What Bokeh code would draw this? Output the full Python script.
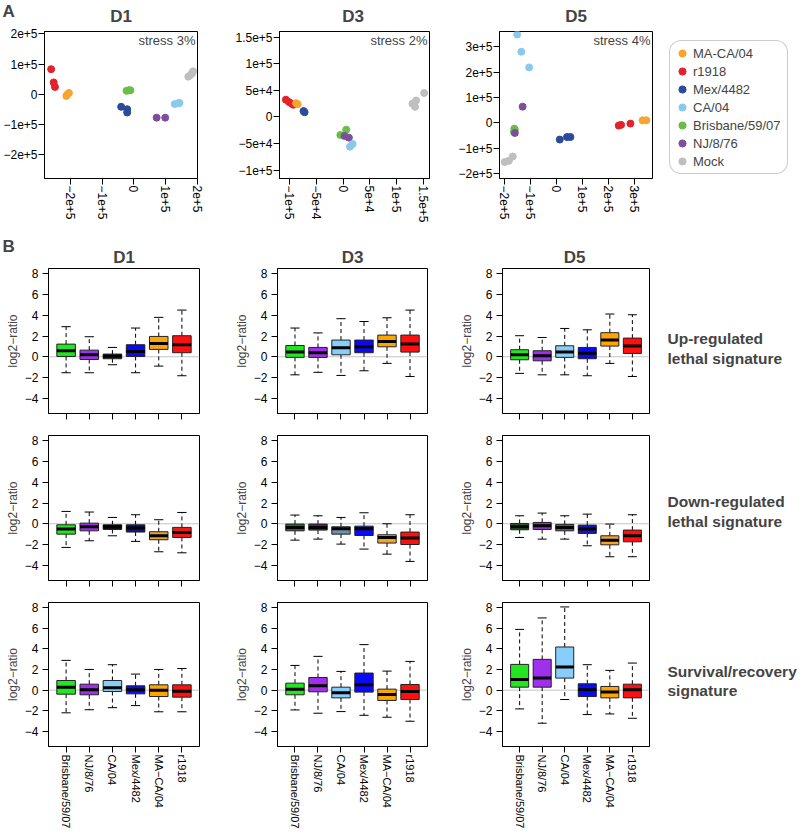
import numpy as np
from bokeh.plotting import figure
from bokeh.layouts import row, column
from bokeh.models import (FixedTicker, Span, Label, Range1d, Legend, LegendItem,
                          ColumnDataSource)
from bokeh.embed import file_html
from bokeh.resources import INLINE

FONT = "Liberation Sans"

# ---------------- Panel A: MDS scatter ----------------
STRAINS = ["MA-CA/04", "r1918", "Mex/4482", "CA/04", "Brisbane/59/07", "NJ/8/76", "Mock"]
STRAIN_COLORS = ["#F6A531", "#E3232A", "#2C4A9A", "#8AC9EE", "#6ABD46", "#7B4F9E", "#BFBFBF"]
DRAW_ORDER = ["Mock", "Brisbane/59/07", "NJ/8/76", "CA/04", "Mex/4482", "r1918", "MA-CA/04"]

D1_GROUP = ["r1918", "r1918", "r1918", "MA-CA/04", "MA-CA/04", "MA-CA/04",
            "Mex/4482", "Mex/4482", "Mex/4482", "Brisbane/59/07", "Brisbane/59/07", "Brisbane/59/07",
            "NJ/8/76", "NJ/8/76", "CA/04", "CA/04", "CA/04", "Mock", "Mock", "Mock", "Mock"]
D1_X = [-2.61e5, -2.53e5, -2.49e5, -2.11e5, -2.05e5, -2.13e5,
        -0.40e5, -0.21e5, -0.21e5, -0.23e5, -0.16e5, -0.11e5,
        0.72e5, 0.99e5, 1.29e5, 1.40e5, 1.44e5, 1.72e5, 1.79e5, 1.87e5, 1.84e5]
D1_Y = [0.83e5, 0.39e5, 0.24e5, -0.02e5, 0.04e5, -0.06e5,
        -0.42e5, -0.50e5, -0.61e5, 0.11e5, 0.13e5, 0.13e5,
        -0.78e5, -0.78e5, -0.33e5, -0.30e5, -0.29e5, 0.58e5, 0.64e5, 0.76e5, 0.69e5]

D3_GROUP = ["r1918", "r1918", "r1918", "r1918", "MA-CA/04", "MA-CA/04", "Mex/4482", "Mex/4482",
            "Brisbane/59/07", "Brisbane/59/07", "NJ/8/76", "NJ/8/76", "CA/04", "CA/04",
            "Mock", "Mock", "Mock", "Mock"]
D3_X = [-1.07e5, -1.01e5, -0.96e5, -0.93e5, -0.88e5, -0.85e5, -0.74e5, -0.72e5,
        -0.5e4, 0.6e4, 0.3e4, 1.1e4, 1.3e4, 1.8e4,
        1.30e5, 1.37e5, 1.35e5, 1.52e5]
D3_Y = [3.25e4, 2.8e4, 2.5e4, 2.3e4, 2.6e4, 2.4e4, 1.1e4, 0.9e4,
        -3.4e4, -2.4e4, -3.6e4, -3.9e4, -5.6e4, -5.1e4,
        2.5e4, 3.1e4, 1.9e4, 4.5e4]

D5_GROUP = ["CA/04", "CA/04", "CA/04", "NJ/8/76", "NJ/8/76",
            "Brisbane/59/07", "Brisbane/59/07", "Brisbane/59/07", "Mock", "Mock", "Mock",
            "Mex/4482", "Mex/4482", "Mex/4482", "r1918", "r1918", "r1918", "MA-CA/04", "MA-CA/04"]
D5_X = [-1.51e5, -1.35e5, -1.05e5, -1.30e5, -1.60e5,
        -1.62e5, -1.60e5, -1.63e5, -1.99e5, -1.83e5, -1.68e5,
        0.13e5, 0.41e5, 0.54e5, 2.40e5, 2.49e5, 2.85e5, 3.32e5, 3.46e5]
D5_Y = [3.49e5, 2.81e5, 2.19e5, 0.64e5, -0.40e5,
        -0.23e5, -0.29e5, -0.36e5, -1.55e5, -1.50e5, -1.33e5,
        -0.66e5, -0.56e5, -0.56e5, -0.11e5, -0.08e5, -0.03e5, 0.10e5, 0.10e5]

D1_TICKS = [-2e5, -1e5, 0, 1e5, 2e5]
D1_TICK_LABELS = ["\u22122e+5", "\u22121e+5", "0", "1e+5", "2e+5"]
D3_TICKS = [-1e5, -5e4, 0, 5e4, 1e5, 1.5e5]
D3_TICK_LABELS = ["\u22121e+5", "\u22125e+4", "0", "5e+4", "1e+5", "1.5e+5"]
D5_TICKS = [-2e5, -1e5, 0, 1e5, 2e5, 3e5]
D5_TICK_LABELS = ["\u22122e+5", "\u22121e+5", "0", "1e+5", "2e+5", "3e+5"]
STRESS = ["stress 3%", "stress 2%", "stress 4%"]
DAYS = ["D1", "D3", "D5"]

# ---------------- Panel B: boxplots ----------------
BOX_CATS = ["Brisbane/59/07", "NJ/8/76", "CA/04", "Mex/4482", "MA\u2212CA/04", "r1918"]
BOX_TICKS = [1, 2, 3, 4, 5, 6]
Y_TICKS = [-4, -2, 0, 2, 4, 6, 8]
Y_TICK_LABELS = ["\u22124", "\u22122", "0", "2", "4", "6", "8"]
BASE_COLORS = ["#22E622", "#A030EE", "#87CEFA", "#0A0AF5", "#FFA500", "#FF1010"]

UP_D1 = dict(lower=[-1.54, -1.54, -0.77, -1.54, -0.90, -1.83], q1=[0.03, -0.26, -0.19, 0.03, 0.71, 0.39],
             med=[0.58, 0.19, 0.06, 0.51, 1.29, 1.16], q3=[1.22, 0.64, 0.26, 1.16, 1.96, 2.03],
             upper=[2.90, 1.93, 0.90, 2.77, 3.80, 4.50])
UP_D3 = dict(lower=[-1.74, -1.50, -1.80, -1.35, -0.64, -1.90], q1=[-0.06, -0.06, 0.19, 0.39, 0.96, 0.45],
             med=[0.45, 0.39, 0.87, 0.96, 1.48, 1.22], q3=[1.09, 0.90, 1.61, 1.61, 2.09, 2.09],
             upper=[2.77, 2.30, 3.67, 3.40, 3.76, 4.50])
UP_D5 = dict(lower=[-1.60, -1.74, -1.74, -1.83, -0.64, -1.90], q1=[-0.29, -0.39, -0.06, -0.19, 1.03, 0.32],
             med=[0.19, 0.10, 0.45, 0.35, 1.61, 1.03], q3=[0.68, 0.58, 1.06, 0.90, 2.32, 1.80],
             upper=[2.03, 1.86, 2.73, 2.60, 4.12, 4.05])
DOWN_D1 = dict(lower=[-2.28, -1.64, -1.16, -1.70, -2.70, -2.80], q1=[-1.00, -0.68, -0.55, -0.80, -1.54, -1.32],
               med=[-0.51, -0.29, -0.29, -0.42, -1.16, -0.84], q3=[-0.10, 0.06, -0.10, -0.10, -0.77, -0.35],
               upper=[1.19, 1.13, 0.61, 0.87, 0.39, 1.09])
DOWN_D3 = dict(lower=[-1.58, -1.48, -1.96, -2.44, -2.93, -3.63], q1=[-0.68, -0.61, -1.00, -1.13, -1.86, -2.00],
               med=[-0.35, -0.35, -0.48, -0.48, -1.32, -1.38], q3=[-0.03, -0.03, -0.29, -0.23, -1.06, -0.80],
               upper=[0.84, 0.77, 0.61, 1.06, 0.00, 0.87])
DOWN_D5 = dict(lower=[-1.32, -1.48, -1.48, -2.12, -3.18, -3.18], q1=[-0.58, -0.55, -0.68, -0.93, -2.03, -1.74],
               med=[-0.29, -0.19, -0.35, -0.51, -1.58, -1.16], q3=[0.03, 0.13, -0.06, -0.13, -1.16, -0.61],
               upper=[0.77, 1.03, 0.77, 0.93, -0.03, 0.87])
SURV_D1 = dict(lower=[-2.20, -1.90, -1.70, -1.50, -2.10, -2.10], q1=[-0.39, -0.45, -0.13, -0.36, -0.62, -0.68],
               med=[0.29, 0.03, 0.23, 0.03, 0.00, -0.10], q3=[0.94, 0.58, 0.94, 0.42, 0.52, 0.52],
               upper=[2.89, 2.01, 2.47, 1.56, 2.01, 2.10])
SURV_D3 = dict(lower=[-1.92, -2.24, -2.08, -2.44, -2.63, -3.02], q1=[-0.45, -0.16, -0.75, -0.19, -1.00, -0.91],
               med=[0.10, 0.42, -0.26, 0.52, -0.42, -0.13], q3=[0.68, 1.23, 0.29, 1.66, 0.10, 0.55],
               upper=[2.40, 3.28, 1.82, 4.42, 1.85, 2.79])
SURV_D5 = dict(lower=[-1.82, -3.21, -0.91, -2.37, -2.31, -2.73], q1=[0.29, 0.29, 1.17, -0.62, -0.75, -0.75],
               med=[1.04, 1.17, 2.24, 0.03, -0.19, 0.03], q3=[2.50, 2.99, 4.19, 0.62, 0.36, 0.58],
               upper=[5.90, 7.01, 8.08, 2.47, 1.92, 2.63])

UP_D1_COLORS = ["#22E622", "#A030EE", "#333333", "#0A0AF5", "#FFA500", "#FF1010"]
DOWN_D1_COLORS = ["#22E622", "#A030EE", "#111111", "#14147A", "#E8A43C", "#F01818"]
DOWN_D3_COLORS = ["#2A6E2A", "#542270", "#6E90AA", "#0A0AF5", "#F2A333", "#FF1010"]
DOWN_D5_COLORS = ["#1F5A28", "#8A35C8", "#4E6472", "#1616C0", "#F2A333", "#FF1010"]

ROW_TEXT = [("Up-regulated", "lethal signature"), ("Down-regulated", "lethal signature"),
            ("Survival/recovery", "signature")]

# ---------------- geometry (pixels) ----------------
A_W = [232, 223, 205]
A_MBL = [44, 44, 44]
A_MBR = [35, 26, 8]
A_H, A_MBT, A_MBB = 202, 5, 50
SIDE_W = 138
STRIP_A_H = 26
STRIP_B_H = 38
COL_W = [228, 228, 204]
COL_MBL = [48, 49, 43]
COL_MBR = [29, 29, 11]
ROW_H = [158, 167, 240]
ROW_MBT = [2, 11, 11]
ROW_MBB = [11, 11, 84]
TEXT_BASE = [(75, 55), (79, 59), (76, 56)]   # baselines above each row's frame bottom


def style_axes(p, size="12px"):
    p.grid.visible = False
    p.outline_line_color = "black"
    p.outline_line_width = 1
    p.axis.axis_line_color = "black"
    p.axis.major_tick_line_color = "black"
    p.axis.minor_tick_line_color = None
    p.axis.major_tick_in = 0
    p.axis.major_tick_out = 6
    p.axis.major_label_text_font = FONT
    p.axis.major_label_text_font_size = size
    p.axis.major_label_text_color = "black"


def scatter_fig(groups, xs, ys, xr, yr, ticks, labels, width, mbl, mbr, stress):
    p = figure(width=width, height=A_H, x_range=Range1d(*xr), y_range=Range1d(*yr), title=None,
               output_backend="svg", toolbar_location=None,
               min_border_left=mbl, min_border_right=mbr, min_border_top=A_MBT, min_border_bottom=A_MBB)
    style_axes(p)
    for ax in (p.xaxis[0], p.yaxis[0]):
        ax.ticker = FixedTicker(ticks=ticks)
        ax.major_label_overrides = dict(zip(ticks, labels))
        ax.major_label_standoff = 1
    p.xaxis.major_label_orientation = "vertical"
    for s in DRAW_ORDER:
        idx = [i for i, g in enumerate(groups) if g == s]
        if idx:
            p.scatter([xs[i] for i in idx], [ys[i] for i in idx], size=7,
                      color=STRAIN_COLORS[STRAINS.index(s)])
    p.add_layout(Label(x=xr[1], y=yr[1], x_offset=-2, y_offset=-1, text=stress, text_align="right",
                       text_baseline="top", text_font=FONT, text_font_size="13px"))
    return p


def box_fig(data, colors, width, height, mbl, mbr, mbt, mbb, show_labels):
    xr = (0.24, 6.76)
    yr = (-5.47, 8.51)
    p = figure(width=width, height=height, x_range=Range1d(*xr), y_range=Range1d(*yr), title=None,
               output_backend="svg", toolbar_location=None,
               min_border_left=mbl, min_border_right=mbr, min_border_top=mbt, min_border_bottom=mbb)
    style_axes(p)
    p.yaxis.ticker = FixedTicker(ticks=Y_TICKS)
    p.yaxis.major_label_overrides = dict(zip(Y_TICKS, Y_TICK_LABELS))
    p.yaxis.major_label_standoff = 4
    p.yaxis.axis_label = "log2\u2212ratio"
    p.yaxis.axis_label_text_font = FONT
    p.yaxis.axis_label_text_font_size = "12px"
    p.yaxis.axis_label_text_font_style = "normal"
    p.yaxis.axis_label_standoff = 2
    p.xaxis.ticker = FixedTicker(ticks=BOX_TICKS)
    p.xaxis.major_label_orientation = "vertical"
    if show_labels:
        p.xaxis.major_label_overrides = dict(zip(BOX_TICKS, BOX_CATS))
        p.xaxis.major_label_text_font_size = "11px"
        p.xaxis.major_label_standoff = 2
    else:
        p.xaxis.major_label_overrides = {t: "" for t in BOX_TICKS}
        p.xaxis.major_label_standoff = 0
    x = np.array(BOX_TICKS, dtype=float)
    src = ColumnDataSource(dict(x=x, lower=data["lower"], q1=data["q1"], med=data["med"],
                                q3=data["q3"], upper=data["upper"], color=colors,
                                bl=x - 0.4, br=x + 0.4, cl=x - 0.2, cr=x + 0.2))
    p.add_layout(Span(location=0, dimension="width", line_color="#C4C4C4", line_width=1,
                      level="underlay"))
    p.segment(x0="x", y0="q3", x1="x", y1="upper", line_dash="4 3", line_color="black",
              line_width=1, source=src)
    p.segment(x0="x", y0="q1", x1="x", y1="lower", line_dash="4 3", line_color="black",
              line_width=1, source=src)
    p.segment(x0="cl", y0="upper", x1="cr", y1="upper", line_color="black", line_width=1, source=src)
    p.segment(x0="cl", y0="lower", x1="cr", y1="lower", line_color="black", line_width=1, source=src)
    p.vbar(x="x", width=0.8, bottom="q1", top="q3", fill_color="color", line_color="#222222",
           line_width=1, source=src)
    p.segment(x0="bl", y0="med", x1="br", y1="med", line_color="black", line_width=3, source=src)
    return p


def blank_fig(width, height, mbt=0, mbb=0):
    p = figure(width=width, height=height, x_range=Range1d(0, width),
               y_range=Range1d(0, height - mbt - mbb),
               title=None, output_backend="svg", toolbar_location=None,
               x_axis_location=None, y_axis_location=None,
               min_border_left=0, min_border_right=0, min_border_top=mbt, min_border_bottom=mbb)
    p.grid.visible = False
    p.outline_line_color = None
    return p


def bold_label(p, x, y, text, size, align):
    p.add_layout(Label(x=x, y=y, text=text, text_align=align, text_baseline="alphabetic",
                       text_font=FONT, text_font_size=size, text_font_style="bold"))


# ----- strip with panel letter A and day titles -----
stripA = blank_fig(sum(A_W) + SIDE_W, STRIP_A_H)
bold_label(stripA, 2, 15, "A", "17px", "left")
left = 0
for i in range(3):
    fl = left + A_MBL[i]
    fr = left + A_W[i] - A_MBR[i]
    bold_label(stripA, (fl + fr) / 2, 10, DAYS[i], "17px", "center")
    left += A_W[i]

# ----- Row A -----
a1 = scatter_fig(D1_GROUP, D1_X, D1_Y, (-2.82e5, 2.01e5), (-2.80e5, 2.08e5), D1_TICKS, D1_TICK_LABELS,
                 A_W[0], A_MBL[0], A_MBR[0], STRESS[0])
a2 = scatter_fig(D3_GROUP, D3_X, D3_Y, (-1.19e5, 1.62e5), (-1.16e5, 1.61e5), D3_TICKS, D3_TICK_LABELS,
                 A_W[1], A_MBL[1], A_MBR[1], STRESS[1])
a3 = scatter_fig(D5_GROUP, D5_X, D5_Y, (-2.19e5, 3.70e5), (-2.20e5, 3.61e5), D5_TICKS, D5_TICK_LABELS,
                 A_W[2], A_MBL[2], A_MBR[2], STRESS[2])

# legend panel: real D5 points, outside this panel's visible range, serve as legend glyphs
lf = blank_fig(SIDE_W, A_H, mbt=A_MBT, mbb=A_MBB)
items = []
for s, c in zip(STRAINS, STRAIN_COLORS):
    idx = [i for i, g in enumerate(D5_GROUP) if g == s]
    r = lf.scatter([D5_X[i] for i in idx], [D5_Y[i] for i in idx], size=7, color=c)
    items.append(LegendItem(label=s, renderers=[r], index=0))
leg = Legend(items=items, location="top_left", margin=9, padding=3, spacing=0,
             glyph_width=18, glyph_height=18, label_height=18, label_standoff=2, label_width=91,
             label_text_font=FONT, label_text_font_size="13px",
             border_line_color="#9A9A9A", border_line_width=1, background_fill_color="white")
if "border_radius" in Legend.properties():
    leg.border_radius = 12
lf.add_layout(leg)

rowA = row(a1, a2, a3, lf)

# ----- strip with panel letter B and day titles -----
stripB = blank_fig(sum(COL_W) + SIDE_W, STRIP_B_H)
bold_label(stripB, 2, 20, "B", "17px", "left")
left = 0
for i in range(3):
    fl = left + COL_MBL[i]
    fr = left + COL_W[i] - COL_MBR[i]
    bold_label(stripB, (fl + fr) / 2, 9, DAYS[i], "17px", "center")
    left += COL_W[i]

# ----- Rows B -----
PANELS = [
    [(UP_D1, UP_D1_COLORS), (UP_D3, BASE_COLORS), (UP_D5, BASE_COLORS)],
    [(DOWN_D1, DOWN_D1_COLORS), (DOWN_D3, DOWN_D3_COLORS), (DOWN_D5, DOWN_D5_COLORS)],
    [(SURV_D1, BASE_COLORS), (SURV_D3, BASE_COLORS), (SURV_D5, BASE_COLORS)],
]

rows = [stripA, rowA, stripB]
for ri in range(3):
    figs = []
    for ci in range(3):
        data, cols = PANELS[ri][ci]
        figs.append(box_fig(data, cols, COL_W[ci], ROW_H[ri], COL_MBL[ci], COL_MBR[ci], ROW_MBT[ri],
                            ROW_MBB[ri], ri == 2))
    tf = blank_fig(SIDE_W, ROW_H[ri], mbt=ROW_MBT[ri], mbb=ROW_MBB[ri])
    for line, yb in zip(ROW_TEXT[ri], TEXT_BASE[ri]):
        bold_label(tf, 7, yb, line, "15.5px", "left")
    figs.append(tf)
    rows.append(row(*figs))

layout = column(*rows)
open("out.html", "w").write(file_html(layout, INLINE))
